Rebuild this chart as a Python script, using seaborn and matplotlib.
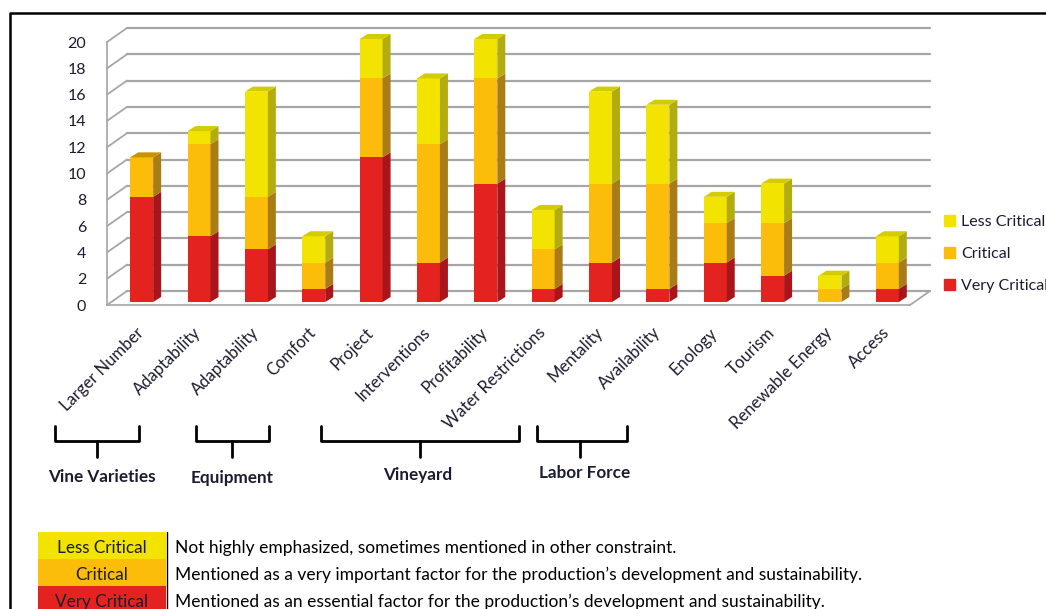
import pandas as pd
import matplotlib
matplotlib.use("Agg")
from matplotlib import pyplot as plt
from matplotlib import transforms
from matplotlib.patches import Polygon, Rectangle, Patch
from matplotlib.lines import Line2D
import seaborn as sns

# data
factors = ["Larger Number", "Adaptability", "Adaptability", "Comfort", "Project",
           "Interventions", "Profitability", "Water Restrictions", "Mentality",
           "Availability", "Enology", "Tourism", "Renewable Energy", "Access"]
very_critical = [8, 5, 4, 1, 11, 3, 9, 1, 3, 1, 3, 2, 0, 1]
critical = [3, 7, 4, 2, 6, 9, 8, 3, 6, 8, 3, 4, 1, 2]
less_critical = [0, 1, 8, 2, 3, 5, 3, 3, 7, 6, 2, 3, 1, 2]
levels = ["Less Critical", "Critical", "Very Critical"]
descriptions = [
    "Not highly emphasized, sometimes mentioned in other constraint.",
    "Mentioned as a very important factor for the production\u2019s development and sustainability.",
    "Mentioned as an essential factor for the production\u2019s development and sustainability.",
]
groups = ["Vine Varieties", "Equipment", "Vineyard", "Labor Force"]

front = {"Very Critical": "#e42320", "Critical": "#fbbd09", "Less Critical": "#f2e400"}
side = {"Very Critical": "#a8151b", "Critical": "#a97c17", "Less Critical": "#b3ac10"}
top = {"Very Critical": "#c01c1c", "Critical": "#c79400", "Less Critical": "#d2cc00"}
grid_c = "#a6a6a6"
text_c = "#1c1c30"

sns.set_style("white")
plt.rcParams["font.family"] = ["Lato", "DejaVu Sans"]

W, H = 1046, 609
fig = plt.figure(figsize=(W / 100, H / 100), dpi=100)


def fx(x):
    return x / W


def fy(y):
    return 1 - y / H


ax = fig.add_axes([fx(107), fy(305), fx(803), 263 / H])
ax.patch.set_alpha(0)

df = pd.DataFrame({"pos": range(len(factors)), "factor": factors,
                   "vc": very_critical, "c": critical, "lc": less_critical})
df["vc_c"] = df["vc"] + df["c"]
df["total"] = df["vc_c"] + df["lc"]

bw = 0.4
sns.barplot(data=df, x="pos", y="total", color=front["Less Critical"], width=bw,
            saturation=1, linewidth=0, ax=ax)
sns.barplot(data=df, x="pos", y="vc_c", color=front["Critical"], width=bw,
            saturation=1, linewidth=0, ax=ax)
sns.barplot(data=df, x="pos", y="vc", color=front["Very Critical"], width=bw,
            saturation=1, linewidth=0, ax=ax)

ax.set_xlim(-0.5, 13.5)
ax.set_ylim(0, 20)
ux = 14 / 803
uy = 20 / 263

# bars sit a bit back from the front edge
shift = ax.transData + transforms.ScaledTranslation(6 / 100, 3 / 100, fig.dpi_scale_trans)
for p in ax.patches:
    p.set_transform(shift)
    p.set_zorder(3)
    p.set_clip_on(False)

# 3d faces of each bar
dx, dy = 8 * ux, 5 * uy
for i, row in df.iterrows():
    xl, xr = i - bw / 2, i + bw / 2
    segs = [(0, row["vc"], "Very Critical"), (row["vc"], row["vc_c"], "Critical"),
            (row["vc_c"], row["total"], "Less Critical")]
    segs = [s for s in segs if s[1] > s[0]]
    for b, t, lev in segs:
        ax.add_patch(Polygon([(xr, b), (xr + dx, b + dy), (xr + dx, t + dy), (xr, t)],
                             closed=True, fc=side[lev], ec="none", transform=shift,
                             zorder=3, clip_on=False))
    t, lev = segs[-1][1], segs[-1][2]
    ax.add_patch(Polygon([(xl, t), (xl + dx, t + dy), (xr + dx, t + dy), (xr, t)],
                         closed=True, fc=top[lev], ec="none", transform=shift,
                         zorder=3, clip_on=False))

# back wall grid, side wall and floor
wx, wy = 20 * ux, 14 * uy
for v in range(0, 21, 2):
    ax.plot([-0.5 + wx, 13.5 + wx], [v + wy, v + wy], color=grid_c, lw=1.6,
            zorder=0.5, clip_on=False)
    ax.plot([-0.5, -0.5 + wx], [v, v + wy], color=grid_c, lw=1.3, zorder=0.5,
            clip_on=False)
ax.plot([13.5, 13.5 + wx], [0, wy], color=grid_c, lw=1.3, zorder=0.5, clip_on=False)

for s in ["top", "right"]:
    ax.spines[s].set_visible(False)
for s in ["left", "bottom"]:
    ax.spines[s].set_color(grid_c)
    ax.spines[s].set_linewidth(1.2)

ax.set_yticks(range(0, 21, 2))
ax.tick_params(axis="y", length=5, color=grid_c, pad=10, labelsize=11.5,
               labelcolor=text_c)
ax.set_xticks(range(len(factors)))
ax.set_xticklabels(factors, rotation=45, ha="right", rotation_mode="anchor",
                   fontsize=12, color=text_c)
ax.set_xticks([-0.5, 6.5, 13.5], minor=True)
ax.tick_params(axis="x", which="major", length=0, pad=14)
ax.tick_params(axis="x", which="minor", length=5, color=grid_c)
ax.set_xlabel("")
ax.set_ylabel("")

handles = [Patch(color=front[l]) for l in levels]
ax.legend(handles, levels, loc="center left", bbox_to_anchor=(fx(944), fy(254)),
          bbox_transform=fig.transFigure, frameon=False, handlelength=0.7,
          handleheight=0.7, handletextpad=0.35, labelspacing=1.1, fontsize=11.5,
          labelcolor=text_c, borderaxespad=0, borderpad=0)

# group braces under the labels
braces = [(55, 139, 97, 102, 477), (196, 269, 232, 232, 478),
          (321, 519, 420, 418, 475), (537, 627, 580, 585, 473)]
for (x0, x1, xm, xt, yt), name in zip(braces, groups):
    fig.add_artist(Line2D([fx(x0), fx(x0), fx(x1), fx(x1)],
                          [fy(426), fy(441), fy(441), fy(426)],
                          color="black", lw=2, solid_joinstyle="round",
                          transform=fig.transFigure))
    fig.add_artist(Line2D([fx(xm), fx(xm)], [fy(441), fy(457)], color="black",
                          lw=2, transform=fig.transFigure))
    fig.text(fx(xt), fy(yt), name, ha="center", va="center", fontsize=12.3,
             fontweight="bold", color=text_c)

# key table at the bottom
rows_y = [(532, 559), (559, 586), (586, 612)]
for (y0, y1), lev, desc in zip(rows_y, levels, descriptions):
    fig.add_artist(Rectangle((fx(38), fy(y1)), fx(128), (y1 - y0) / H,
                             fc=front[lev], ec="none", transform=fig.transFigure))
    yc = (y0 + y1) / 2 + 2.5
    fig.text(fx(102), fy(yc), lev, ha="center", va="center", fontsize=12.3,
             color=text_c)
    fig.text(fx(175), fy(yc), desc, ha="left", va="center", fontsize=12.5,
             color="black")
fig.add_artist(Line2D([fx(167), fx(167)], [fy(532), 0], color="black", lw=1,
                      transform=fig.transFigure))

# outer frame
fig.add_artist(Line2D([fx(10), fx(10), 1], [0, fy(13), fy(13)], color="black",
                      lw=1.8, transform=fig.transFigure))

fig.savefig("out.png", dpi=100)
